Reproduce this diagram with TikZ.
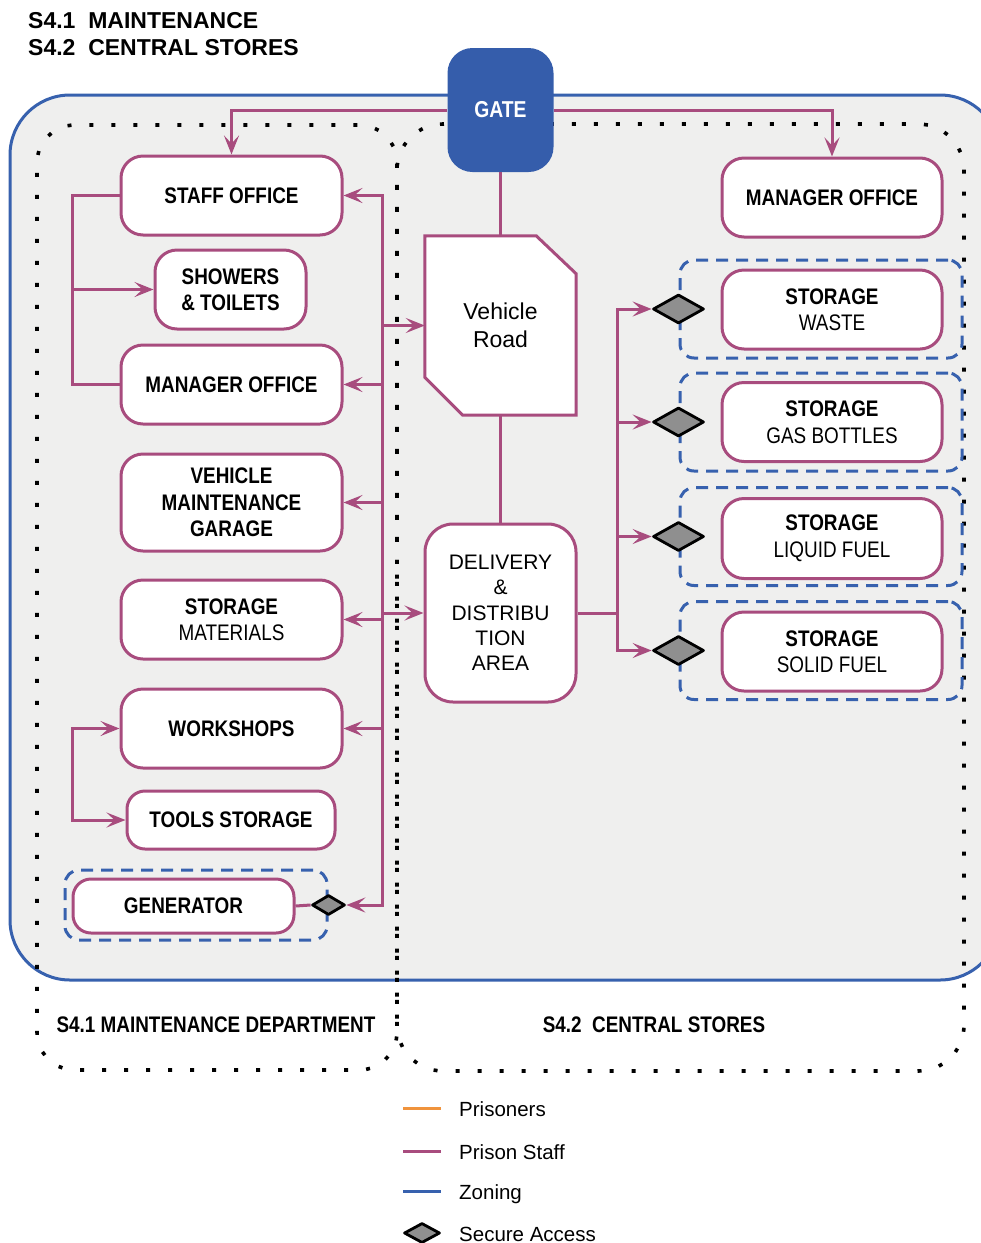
\documentclass[tikz,border=0pt]{standalone}
\usepackage{fontspec}
\setmainfont{Liberation Sans}
\newfontfamily\cnd[FakeStretch=0.84]{Liberation Sans}
\usetikzlibrary{shapes.geometric,arrows.meta,calc}
\definecolor{pinkc}{HTML}{A84C7E}
\definecolor{bluec}{HTML}{3761AE}
\definecolor{gatec}{HTML}{355DAB}
\definecolor{bgray}{HTML}{EFEFEE}
\definecolor{dgray}{HTML}{8F8F8F}
\definecolor{orangec}{HTML}{F0933C}
\newcommand{\boxfont}{\cnd\bfseries\fontsize{22.5}{26.5}\selectfont}
\tikzset{
  box/.style={draw=pinkc, line width=3pt, fill=white, rounded corners=22pt,
    inner sep=0pt, align=center, font=\boxfont},
  zone/.style={draw=bluec, line width=3pt, dash pattern=on 12pt off 8pt,
    rounded corners=14pt, inner sep=0pt},
  secdia/.style={diamond, draw=black, fill=dgray, line width=2.8pt, line join=round,
    inner sep=0pt, minimum width=51pt, minimum height=29pt},
  conn/.style={draw=pinkc, line width=3pt},
  arr/.style={-{Stealth[length=19pt,width=15pt,inset=8pt]}},
  barr/.style={{Stealth[length=19pt,width=15pt,inset=8pt]}-{Stealth[length=19pt,width=15pt,inset=8pt]}},
  dotline/.style={draw=black, line width=3.6pt, line cap=rect, dash pattern=on 0.4pt off 21.6pt},
  legtext/.style={anchor=base west, inner sep=0pt, font=\fontsize{20.5}{24}\selectfont},
}
\begin{document}
\begin{tikzpicture}[x=1pt,y=-1pt]
\useasboundingbox (0,0) rectangle (981,1243);
\clip (0,0) rectangle (981,1243);

% zoning background
\draw[draw=bluec, line width=3pt, fill=bgray, rounded corners=60pt] (10,95) rectangle (1000,980);

% dotted department regions
\draw[dotline, rounded corners=38pt] (397,600) -- (397,125) -- (37,125) -- (37,1070) -- (397,1070) -- cycle;
\draw[dotline, rounded corners=46pt, dash phase=7pt] (397,600) -- (397,124) -- (964,124) -- (964,1071) -- (397,1071) -- cycle;

% titles
\node[anchor=base west, inner sep=0pt, font=\bfseries\fontsize{23}{27}\selectfont] (t1) at (28,28) {S4.1\ \ MAINTENANCE};
\node[anchor=base west, inner sep=0pt, font=\bfseries\fontsize{23}{27}\selectfont] (t2) at (28,55) {S4.2\ \ CENTRAL STORES};

% left column
\node[box, minimum width=221pt, minimum height=79pt] (staff) at (231.5,195.5) {STAFF OFFICE};
\node[box, minimum width=151pt, minimum height=79pt] (show) at (230.5,289.5) {SHOWERS\\\& TOILETS};
\node[box, minimum width=221pt, minimum height=79pt] (mgrl) at (231.5,384.5) {MANAGER OFFICE};
\node[box, minimum width=221pt, minimum height=97pt] (vmg) at (231.5,502.5) {VEHICLE\\MAINTENANCE\\GARAGE};
\node[box, minimum width=221pt, minimum height=79pt] (stm) at (231.5,619.5) {STORAGE\\\mdseries MATERIALS};
\node[box, minimum width=221pt, minimum height=79pt] (work) at (231.5,728.5) {WORKSHOPS};
\node[box, rounded corners=18pt, minimum width=208pt, minimum height=58pt] (tools) at (231,820) {TOOLS STORAGE};
\node[zone, minimum width=262pt, minimum height=70pt] (zg) at (196,905) {};
\node[box, rounded corners=18pt, minimum width=221pt, minimum height=54pt] (gen) at (183.5,906) {GENERATOR};
\node[secdia, minimum width=33pt, minimum height=20pt] (dg) at (zg.east) {};

% right column
\node[box, minimum width=220pt, minimum height=79pt] (mgrr) at (832,197.5) {MANAGER OFFICE};
\node[zone, minimum width=282pt, minimum height=98pt] (zw) at (821,309) {};
\node[zone, minimum width=282pt, minimum height=98pt] (zgs) at (821,422) {};
\node[zone, minimum width=282pt, minimum height=98pt] (zl) at (821,536.5) {};
\node[zone, minimum width=282pt, minimum height=98pt] (zs) at (821,650.5) {};
\node[box, minimum width=220pt, minimum height=79pt] (waste) at (832,309.5) {STORAGE\\\mdseries WASTE};
\node[box, minimum width=220pt, minimum height=79pt] (gas) at (832,422) {STORAGE\\\mdseries GAS BOTTLES};
\node[box, minimum width=220pt, minimum height=80pt] (liq) at (832,538.5) {STORAGE\\\mdseries LIQUID FUEL};
\node[box, minimum width=220pt, minimum height=79pt] (sol) at (832,651.5) {STORAGE\\\mdseries SOLID FUEL};
\node[secdia] (d1) at (zw.west) {};
\node[secdia] (d2) at (zgs.west) {};
\node[secdia] (d3) at (zl.west) {};
\node[secdia] (d4) at (zs.west) {};

% middle
\node[inner sep=0pt, minimum width=151pt, minimum height=179pt] (vr) at (500.5,325.5) {};
\draw[draw=pinkc, line width=3pt, fill=white, line join=miter]
  (vr.north west) -- ($(vr.north east)+(-40,0)$) -- ($(vr.north east)+(0,38)$)
  -- (vr.south east) -- ($(vr.south west)+(38,0)$) -- ($(vr.south west)+(0,-38)$) -- cycle;
\node[inner sep=0pt, align=center, font=\fontsize{23}{28}\selectfont] (vrt) at (vr.center) {Vehicle\\Road};
\node[box, font=\fontsize{21}{25.3}\selectfont, rounded corners=28pt, minimum width=151pt, minimum height=178pt] (del) at (500.5,613) {DELIVERY\\\&\\DISTRIBU\\TION\\AREA};
\node[fill=gatec, rounded corners=25pt, minimum width=106pt, minimum height=124pt, inner sep=0pt,
  text=white, font=\cnd\bfseries\fontsize{23}{27}\selectfont] (gate) at (500.5,110) {GATE};

% connectors
\draw[conn, arr] (gate.west) -| (staff.north);
\draw[conn, arr] (gate.east) -| (mgrr.north);
\draw[conn] (gate.south) -- (vr.north);
\draw[conn] (vr.south) -- (del.north);

\coordinate (bus) at (382,0);
\draw[conn, barr] (staff.east) -- (staff.east -| bus) -- (dg.east -| bus) -- (dg.east);
\foreach \n in {mgrl, vmg, stm, work} \draw[conn, arr] (\n.east -| bus) -- (\n.east);
\draw[conn, arr] (vr.west -| bus) -- (vr.west);
\draw[conn, arr] (del.west -| bus) -- (del.west);

\coordinate (lb) at (72,0);
\draw[conn] (staff.west) -- (staff.west -| lb) -- (mgrl.west -| lb) -- (mgrl.west);
\draw[conn, arr] (show.west -| lb) -- (show.west);
\draw[conn, barr] (work.west) -- (work.west -| lb) -- (tools.west -| lb) -- (tools.west);

\coordinate (rb) at (617,0);
\draw[conn] (del.east) -- (del.east -| rb);
\draw[conn, barr] (d1.west) -- (d1.west -| rb) -- (d4.west -| rb) -- (d4.west);
\draw[conn, arr] (d2.west -| rb) -- (d2.west);
\draw[conn, arr] (d3.west -| rb) -- (d3.west);
\draw[conn] (gen.east) -- (dg.west);

% region labels
\node[anchor=base, inner sep=0pt, font=\boxfont] (lab1) at (216,1032) {S4.1 MAINTENANCE DEPARTMENT};
\node[anchor=base, inner sep=0pt, font=\boxfont] (lab2) at (654,1032) {S4.2\ \ CENTRAL STORES};

% legend
\node[legtext] (lp) at (459,1116) {Prisoners};
\node[legtext] (ls) at (459,1159) {Prison Staff};
\node[legtext] (lz) at (459,1199) {Zoning};
\node[legtext] (la) at (459,1241) {Secure Access};
\draw[orangec, line width=3pt] ($(lp.base west)+(-56,-8)$) -- ++(38,0);
\draw[pinkc, line width=3pt] ($(ls.base west)+(-56,-8)$) -- ++(38,0);
\draw[bluec, line width=3pt] ($(lz.base west)+(-56,-8)$) -- ++(38,0);
\node[secdia, minimum width=36pt, minimum height=20pt] (ldia) at ($(la.base west)+(-37,-8)$) {};
\end{tikzpicture}
\end{document}
